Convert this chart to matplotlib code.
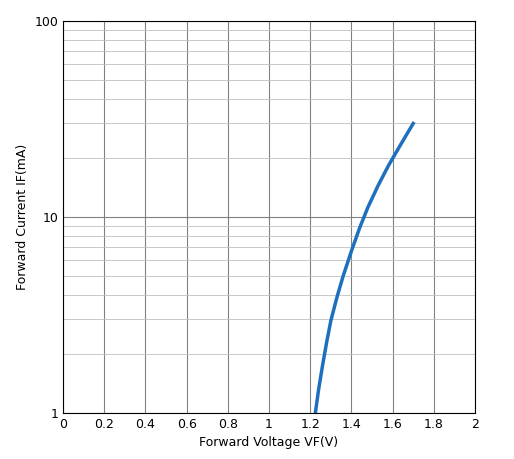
import matplotlib
matplotlib.use("Agg")
import matplotlib.pyplot as plt
from matplotlib.ticker import LogLocator, NullFormatter

vf = [1.225, 1.24, 1.26, 1.28, 1.30, 1.33, 1.36, 1.40, 1.44, 1.48, 1.53, 1.58, 1.64, 1.70]
if_ma = [1.0, 1.3, 1.75, 2.3, 2.95, 3.9, 5.0, 6.7, 8.8, 11.2, 14.5, 18.3, 23.5, 30.0]
xticks = [0, 0.2, 0.4, 0.6, 0.8, 1, 1.2, 1.4, 1.6, 1.8, 2]
xlabels = ["0", "0.2", "0.4", "0.6", "0.8", "1", "1.2", "1.4", "1.6", "1.8", "2"]

fig = plt.figure(figsize=(5.14, 4.59), dpi=100)
ax = fig.add_axes([63/514, 1-413/459, 412/514, 392/459])
ax.plot(vf, if_ma, color="#1f6fbf", lw=2.5)
ax.set_yscale("log")
ax.set_xlim(0, 2)
ax.set_ylim(1, 100)
ax.set_xticks(xticks)
ax.set_xticklabels(xlabels)
ax.set_yticks([1, 10, 100])
ax.set_yticklabels(["1", "10", "100"])
ax.yaxis.set_minor_locator(LogLocator(base=10, subs=range(2, 10)))
ax.yaxis.set_minor_formatter(NullFormatter())
ax.grid(True, which="major", color="#808080", lw=0.8)
ax.grid(True, which="minor", axis="y", color="#c0c0c0", lw=0.6)
ax.tick_params(which="both", length=0, labelsize=9)
for s in ax.spines.values():
    s.set_color("black"); s.set_linewidth(0.8)
ax.set_xlabel("Forward Voltage VF(V)", fontsize=9)
ax.set_ylabel("Forward Current IF(mA)", fontsize=9)
fig.savefig("out.png", dpi=100)
